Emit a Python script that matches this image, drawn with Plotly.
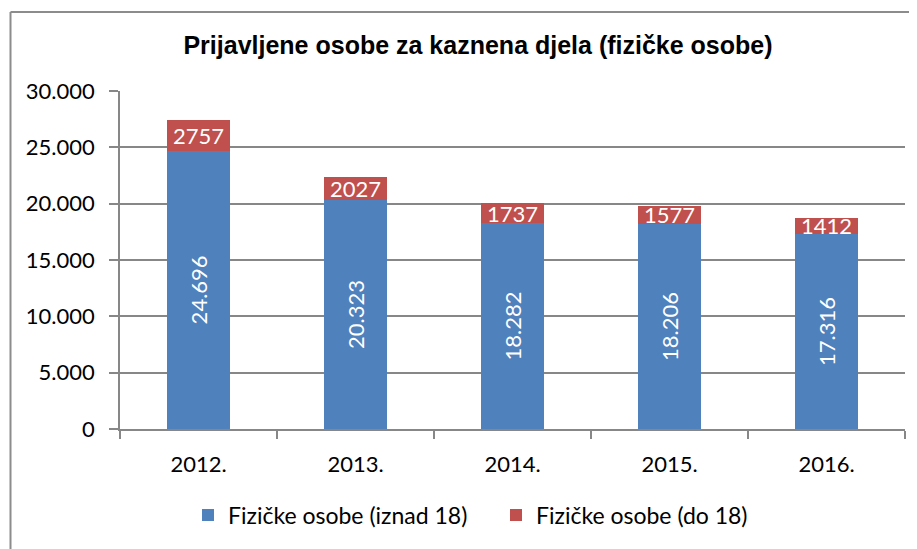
import plotly.graph_objects as go

years = ["2012.", "2013.", "2014.", "2015.", "2016."]
adults = [24696, 20323, 18282, 18206, 17316]
minors = [2757, 2027, 1737, 1577, 1412]
series_names = ["Fizičke osobe (iznad 18)", "Fizičke osobe (do 18)"]
title_text = "Prijavljene osobe za kaznena djela (fizičke osobe)"

FONT = "Lato, Open Sans, sans-serif"
GRID = "#878787"

# page body has an 8px margin, so the figure is laid out 8px smaller
W, H = 909, 541
L, T, R, B = 112, 83, 12, 116
PW, PH = W - L - R, H - T - B

fig = go.Figure()
fig.add_trace(go.Bar(
    x=years, y=adults, name=series_names[0],
    marker=dict(color="#4F81BD", line=dict(width=0)),
    texttemplate="%{y:,.0f}", textposition="inside", insidetextanchor="middle",
    textangle=-90, constraintext="none",
    textfont=dict(color="white", size=22, family=FONT),
    width=0.4,
))
fig.add_trace(go.Bar(
    x=years, y=minors, name=series_names[1],
    marker=dict(color="#C0504D", line=dict(width=0)),
    texttemplate="%{y:.0f}", textposition="inside", insidetextanchor="middle",
    textangle=0, constraintext="none",
    textfont=dict(color="white", size=22, family=FONT),
    width=0.4,
))

fig.update_layout(
    barmode="stack",
    width=W, height=H,
    margin=dict(l=L, r=R, t=T, b=B),
    paper_bgcolor="white", plot_bgcolor="white",
    separators=",.",
    font=dict(family=FONT, size=22, color="black"),
    title=dict(text="<b>" + title_text + "</b>", x=470 / W, xanchor="center",
               y=1 - 37 / H, yanchor="middle",
               font=dict(family="Liberation Sans, Arial, sans-serif", size=25, color="black")),
    showlegend=True,
    legend=dict(orientation="h", x=(180 - L) / PW, xanchor="left",
                y=(T + PH - 512) / PH, yanchor="middle",
                font=dict(size=23, family=FONT), traceorder="normal",
                entrywidth=263, itemwidth=30),
)

fig.update_yaxes(
    range=[0, 30000], dtick=5000, tickformat=",.0f",
    showgrid=True, gridcolor=GRID, gridwidth=1.5,
    showline=True, linecolor=GRID, linewidth=1.5,
    ticks="outside", ticklen=9, tickcolor=GRID, tickwidth=1.5,
    ticklabelstandoff=10,
    tickfont=dict(size=22, family=FONT),
    zeroline=False,
)
fig.update_xaxes(
    showline=True, linecolor=GRID, linewidth=1.5,
    ticks="outside", ticklen=8, tickcolor=GRID, tickwidth=1.5,
    tickson="boundaries", ticklabelstandoff=15,
    tickfont=dict(size=22, family=FONT),
    showgrid=False,
)

# outer chart border (left and top edges visible)
bx = (2.5 - L) / PW
by = (T + PH - 3) / PH
fig.add_shape(type="line", xref="paper", yref="paper", x0=bx, x1=1.2, y0=by, y1=by,
              line=dict(color="#8C8C8C", width=2))
fig.add_shape(type="line", xref="paper", yref="paper", x0=bx, x1=bx, y0=by, y1=-0.5,
              line=dict(color="#8C8C8C", width=2))

fig.write_html("out.html")
